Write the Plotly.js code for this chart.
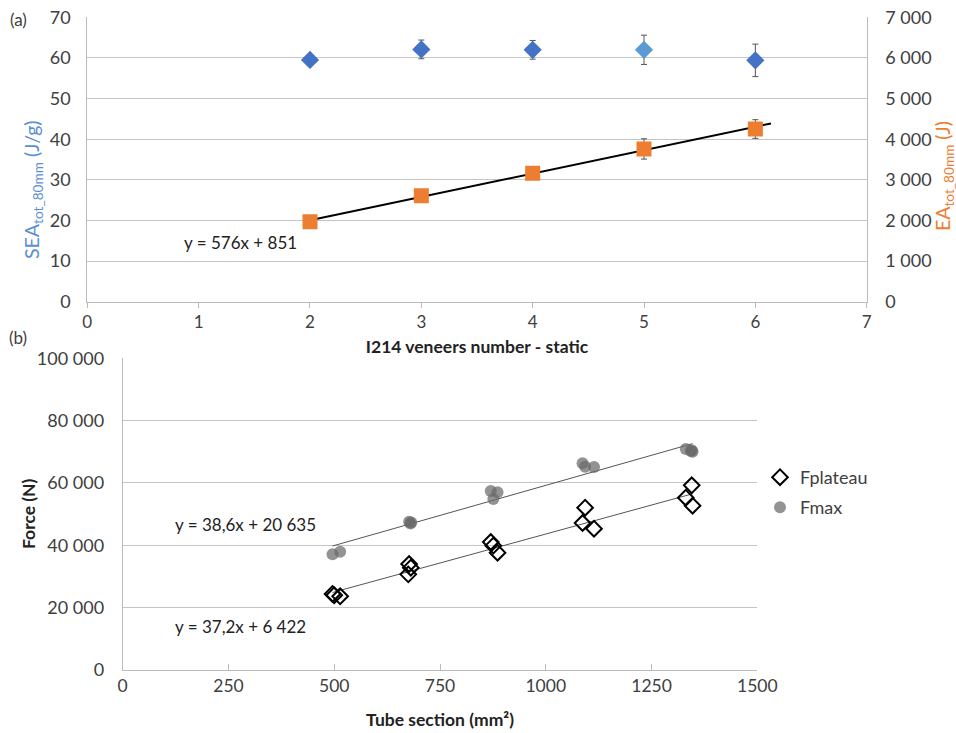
<!DOCTYPE html>
<html>
<head>
<meta charset="utf-8">
<script src="https://cdn.plot.ly/plotly-3.0.1.min.js"></script>
<style>html,body{margin:0;padding:0;background:#fff}#chart{width:956px;height:733px}</style>
</head>
<body>
<div id="chart"></div>
<script>
// ---- (a) data ----
const veneers = [2, 3, 4, 5, 6];
const seaValues = [59.5, 62.1, 62.0, 62.0, 59.4];
const seaErrors = [0.4, 2.3, 2.3, 3.6, 4.0];
const eaValues = [1970, 2610, 3160, 3760, 4250];
const eaErrors = [80, 120, 100, 250, 230];
const eaFitSlope = 576, eaFitIntercept = 851;
const eaFitRange = [2, 6.14];

// ---- (b) data ----
const plateauX = [496, 500, 514, 675, 677, 681, 870, 876, 886, 1087, 1093, 1114, 1331, 1345, 1347];
const plateauY = [24400, 24000, 23640, 30690, 34000, 32830, 41070, 39890, 37640, 47160, 52080, 45340, 55280, 59250, 52710];
const fmaxX = [496, 514, 677, 680, 682, 870, 876, 886, 1087, 1093, 1114, 1331, 1343, 1345, 1347];
const fmaxY = [37120, 37950, 47580, 47000, 47300, 57430, 54860, 57000, 66300, 65230, 65130, 70900, 70260, 70500, 70000];
const fmaxFitSlope = 38.6, fmaxFitIntercept = 20635;
const plateauFitSlope = 37.2, plateauFitIntercept = 6422;
const fitRangeB = [496, 1347];

const FONT = 'Lato, "Open Sans", sans-serif';
const TXT = '#404040';
const GRID = '#c4c4c4';

const line = (m, b, r) => ({x: r, y: r.map(v => m * v + b)});

const eaFit = line(eaFitSlope, eaFitIntercept, eaFitRange);
const fmaxFit = line(fmaxFitSlope, fmaxFitIntercept, fitRangeB);
const platFit = line(plateauFitSlope, plateauFitIntercept, fitRangeB);

const traces = [
  {x: veneers, y: seaValues, type: 'scatter', mode: 'markers', name: 'SEA', showlegend: false,
   xaxis: 'x', yaxis: 'y',
   marker: {symbol: 'diamond', size: 14, color: ['#4472C4', '#4472C4', '#4472C4', '#5B9BD5', '#4472C4']},
   error_y: {type: 'data', array: seaErrors, visible: true, color: '#555', thickness: 1, width: 3}},
  {x: eaFit.x, y: eaFit.y, type: 'scatter', mode: 'lines', name: 'EA fit', showlegend: false,
   xaxis: 'x', yaxis: 'y2', line: {color: '#000', width: 2}},
  {x: veneers, y: eaValues, type: 'scatter', mode: 'markers', name: 'EA', showlegend: false,
   xaxis: 'x', yaxis: 'y2',
   marker: {symbol: 'square', size: 15, color: '#ED7D31'},
   error_y: {type: 'data', array: eaErrors, visible: true, color: '#555', thickness: 1, width: 3}},
  {x: fmaxFit.x, y: fmaxFit.y, type: 'scatter', mode: 'lines', name: 'Fmax fit', showlegend: false,
   xaxis: 'x2', yaxis: 'y3', line: {color: '#555', width: 1}},
  {x: platFit.x, y: platFit.y, type: 'scatter', mode: 'lines', name: 'Fplateau fit', showlegend: false,
   xaxis: 'x2', yaxis: 'y3', line: {color: '#555', width: 1}},
  {x: plateauX, y: plateauY, type: 'scatter', mode: 'markers', name: 'Fplateau', legend: 'legend',
   xaxis: 'x2', yaxis: 'y3',
   marker: {symbol: 'diamond-open', size: 12, color: '#000', line: {width: 2, color: '#000'}}},
  {x: fmaxX, y: fmaxY, type: 'scatter', mode: 'markers', name: 'Fmax', legend: 'legend2',
   xaxis: 'x2', yaxis: 'y3',
   marker: {symbol: 'circle', size: 12, color: 'rgba(105,105,105,0.72)'}}
];

const W = 956, H = 733;
const px = v => v / W, py = v => 1 - v / H;

const layout = {
  width: W, height: H,
  margin: {l: 0, r: 0, t: 0, b: 0},
  paper_bgcolor: '#fff', plot_bgcolor: 'rgba(0,0,0,0)',
  font: {family: FONT, size: 18, color: TXT},
  separators: '. ',
  showlegend: true,
  xaxis: {domain: [px(87.3), px(866.7)], anchor: 'y', range: [0, 7], dtick: 1, tick0: 0,
    showgrid: false, zeroline: false, showline: true, linecolor: '#bbb', linewidth: 1,
    ticks: 'outside', ticklen: 5, tickcolor: '#bbb', tickfont: {size: 17, color: TXT},
    title: {text: '<b>I214 veneers number - static</b>', font: {size: 17.5, color: '#222'}, standoff: 9}},
  yaxis: {domain: [py(301.7), py(17.3)], anchor: 'x', range: [0, 70], dtick: 10,
    showgrid: true, gridcolor: GRID, zeroline: false, showline: true, linecolor: '#bbb',
    ticks: '', ticklabelstandoff: 12, tickfont: {size: 18, color: TXT}},
  yaxis2: {overlaying: 'y', side: 'right', anchor: 'x', range: [0, 7000], dtick: 1000,
    showgrid: false, zeroline: false, showline: true, linecolor: '#bbb', separatethousands: true,
    tickformat: ',d', ticks: '', ticklabelstandoff: 14, tickfont: {size: 18, color: TXT}},
  xaxis2: {domain: [px(122.7), px(757.3)], anchor: 'y3', range: [0, 1500], dtick: 250, tick0: 0,
    showgrid: false, zeroline: false, showline: true, linecolor: '#bbb',
    ticks: 'inside', ticklen: 6, tickcolor: '#bbb', tickfont: {size: 17.5, color: TXT},
    title: {text: '<b>Tube section (mm²)</b>', font: {size: 17.5, color: '#222'}, standoff: 18}},
  yaxis3: {domain: [py(670), py(358.3)], anchor: 'x2', range: [0, 100000], dtick: 20000,
    showgrid: true, gridcolor: GRID, zeroline: false, showline: true, linecolor: '#bbb',
    separatethousands: true, tickformat: ',d',
    ticks: '', ticklabelstandoff: 14, tickfont: {size: 18, color: TXT}},
  legend: {x: px(760), y: py(459), xanchor: 'left', yanchor: 'top', bgcolor: 'rgba(0,0,0,0)',
    font: {size: 18, color: TXT}, itemwidth: 30},
  legend2: {x: px(760), y: py(489), xanchor: 'left', yanchor: 'top', bgcolor: 'rgba(0,0,0,0)',
    font: {size: 18, color: TXT}, itemwidth: 30},
  annotations: [
    {text: '(a)', x: px(18), y: py(20), xref: 'paper', yref: 'paper', xanchor: 'center', yanchor: 'middle',
     showarrow: false, font: {size: 17, color: TXT}},
    {text: '(b)', x: px(18), y: py(338), xref: 'paper', yref: 'paper', xanchor: 'center', yanchor: 'middle',
     showarrow: false, font: {size: 17, color: TXT}},
    {text: 'SEA<sub>tot_80mm</sub> (J/g)', x: px(33), y: py(190), xref: 'paper', yref: 'paper',
     xanchor: 'center', yanchor: 'middle', textangle: -90, showarrow: false,
     font: {size: 19.5, color: '#5B8FD3'}},
    {text: 'EA<sub>tot_80mm</sub> (J)', x: px(944), y: py(176), xref: 'paper', yref: 'paper',
     xanchor: 'center', yanchor: 'middle', textangle: -90, showarrow: false,
     font: {size: 19.5, color: '#ED7D31'}},
    {text: '<b>Force (N)</b>', x: px(28), y: py(514), xref: 'paper', yref: 'paper',
     xanchor: 'center', yanchor: 'middle', textangle: -90, showarrow: false,
     font: {size: 17.5, color: '#222'}},
    {text: 'y = 576x + 851', x: px(240), y: py(242), xref: 'paper', yref: 'paper', xanchor: 'center', yanchor: 'middle',
     showarrow: false, font: {size: 17, color: '#222'}},
    {text: 'y = 38,6x + 20 635', x: px(246), y: py(524), xref: 'paper', yref: 'paper', xanchor: 'center', yanchor: 'middle',
     showarrow: false, font: {size: 17, color: '#222'}},
    {text: 'y = 37,2x + 6 422', x: px(240), y: py(626), xref: 'paper', yref: 'paper', xanchor: 'center', yanchor: 'middle',
     showarrow: false, font: {size: 17, color: '#222'}}
  ]
};

Plotly.newPlot('chart', traces, layout, {displayModeBar: false, staticPlot: true});
</script>
</body>
</html>
